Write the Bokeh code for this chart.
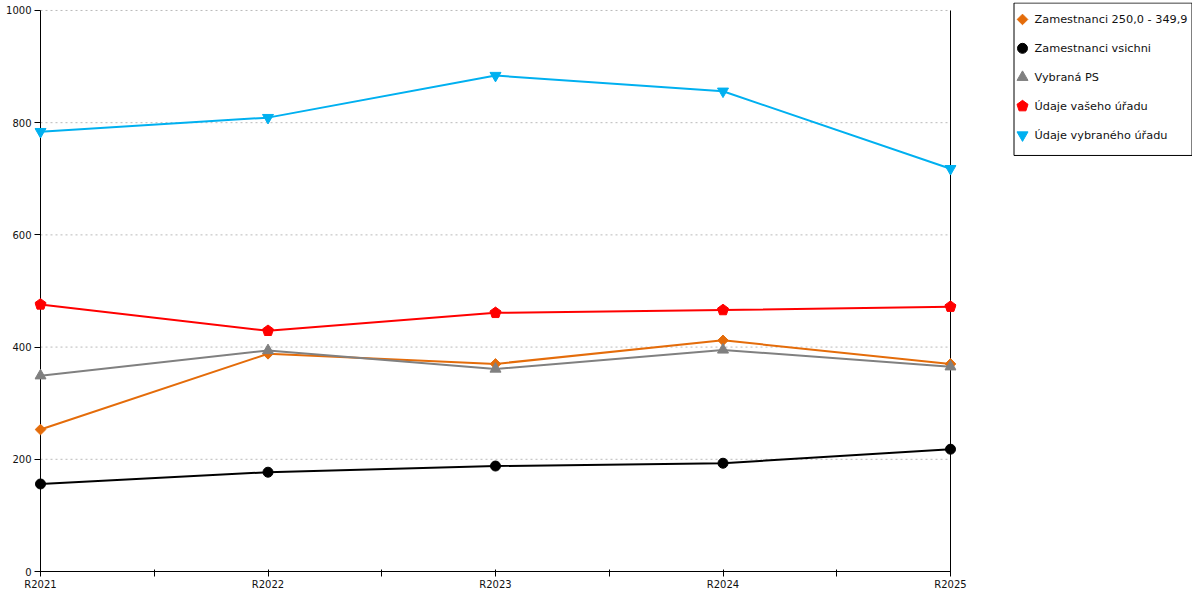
import math
from bokeh.plotting import figure
from bokeh.layouts import row
from bokeh.models import Range1d, FixedTicker
from bokeh.core.properties import value
from bokeh.embed import file_html
from bokeh.resources import INLINE

categories = ["R2021", "R2022", "R2023", "R2024", "R2025"]
s_orange = [253, 388, 370, 412, 370]   # Zamestnanci 250,0 - 349,9
s_black = [156, 177, 188, 193, 218]    # Zamestnanci vsichni
s_gray = [349, 394, 361, 395, 365]     # Vybraná PS
s_red = [476, 429, 461, 466, 472]      # Údaje vašeho úřadu
s_blue = [784, 809, 884, 856, 718]     # Údaje vybraného úřadu
labels = ["Zamestnanci 250,0 - 349,9", "Zamestnanci vsichni", "Vybraná PS",
          "Údaje vašeho úřadu", "Údaje vybraného úřadu"]
y_ticks = [0, 200, 400, 600, 800, 1000]

FONT = "DejaVu Sans"
n = len(categories)
xs = list(range(n))
ymax = y_ticks[-1]

H = 592
TOP, BOTTOM = 2, 18
pxu = 227.5          # px per category step
pyu = 563.0 / ymax   # px per value unit
pad = 6.0 / pxu

p = figure(width=1012, height=H,
           x_range=Range1d(-pad, (n - 1) + pad),
           y_range=Range1d(-1.0 / pyu, ymax + 8.0 / pyu),
           min_border_left=34, min_border_right=56,
           min_border_top=TOP, min_border_bottom=BOTTOM,
           toolbar_location=None, output_backend="svg")
p.outline_line_color = None
p.xgrid.visible = False
p.ygrid.visible = False
p.background_fill_color = "white"
p.border_fill_color = "white"

# x axis
xa = p.xaxis[0]
xa.ticker = FixedTicker(ticks=xs, minor_ticks=[i + 0.5 for i in xs[:-1]])
xa.major_label_overrides = {i: c for i, c in enumerate(categories)}
xa.axis_line_color = None
xa.major_tick_in = 3
xa.major_tick_out = 4
xa.minor_tick_in = 3
xa.minor_tick_out = 4
xa.major_tick_line_color = "black"
xa.minor_tick_line_color = "black"
xa.major_label_standoff = 2
xa.major_label_text_font = FONT
xa.major_label_text_font_size = "10px"
xa.major_label_text_color = "#111111"

# y axis
ya = p.yaxis[0]
ya.ticker = FixedTicker(ticks=y_ticks, minor_ticks=[])
ya.axis_line_color = None
ya.major_tick_in = 6
ya.major_tick_out = 0
ya.minor_tick_line_color = None
ya.major_tick_line_color = "black"
ya.major_label_standoff = 3
ya.major_label_text_font = FONT
ya.major_label_text_font_size = "10px"
ya.major_label_text_color = "#111111"

# dotted grid lines
g = y_ticks[1:]
p.segment(x0=[0] * len(g), x1=[n - 1] * len(g), y0=g, y1=g,
          line_color="#BBBBBB", line_width=1, line_dash="2 3")

# axis frame lines (left, right, bottom)
p.segment(x0=[0, n - 1, 0], x1=[0, n - 1, n - 1],
          y0=[0, 0, 0], y1=[ymax, ymax, 0],
          line_color="black", line_width=1)

c_orange = "#E46C0A"
c_black = "#000000"
c_gray = "#808080"
c_red = "#FF0000"
c_blue = "#00B0F0"


def house(fig, x, y):
    try:
        return fig.ngon(x=x, y=y, radius=5.8, radius_units="screen", n=5,
                        angle=0, fill_color=c_red, line_color=c_red)
    except Exception:
        return fig.scatter(x, y, marker="square", size=9,
                           fill_color=c_red, line_color=c_red)


p.line(xs, s_orange, line_color=c_orange, line_width=2)
p.scatter(xs, s_orange, marker="square", angle=math.pi / 4, size=7.5,
          fill_color=c_orange, line_color=c_orange)
p.line(xs, s_black, line_color=c_black, line_width=2)
p.scatter(xs, s_black, marker="circle", size=10,
          fill_color=c_black, line_color=c_black)
p.line(xs, s_gray, line_color=c_gray, line_width=2)
p.scatter(xs, s_gray, marker="triangle", size=11,
          fill_color=c_gray, line_color=c_gray)
p.line(xs, s_red, line_color=c_red, line_width=2)
house(p, xs, s_red)
p.line(xs, s_blue, line_color=c_blue, line_width=2)
p.scatter(xs, s_blue, marker="inverted_triangle", size=11,
          fill_color=c_blue, line_color=c_blue)

# legend box drawn in a companion figure (pixel coordinates, y downward)
LW = 180
FH = H - TOP - BOTTOM
lg = figure(width=LW, height=H,
            x_range=Range1d(0, LW), y_range=Range1d(FH, 0),
            min_border_left=0, min_border_right=0,
            min_border_top=TOP, min_border_bottom=BOTTOM,
            x_axis_type=None, y_axis_type=None,
            toolbar_location=None, output_backend="svg")
lg.xgrid.visible = False
lg.ygrid.visible = False
lg.outline_line_color = None
lg.background_fill_color = "white"
lg.border_fill_color = "white"

lg.quad(left=[1.5], right=[LW - 0.5], top=[0.5], bottom=[153.5],
        fill_color="white", line_color="black", line_width=1)

ly = [17 + 29 * i for i in range(len(labels))]
mx = 10
lg.scatter([mx], [ly[0]], marker="square", angle=math.pi / 4, size=7.5,
           fill_color=c_orange, line_color=c_orange)
lg.scatter([mx], [ly[1]], marker="circle", size=10,
           fill_color=c_black, line_color=c_black)
lg.scatter([mx], [ly[2]], marker="triangle", size=11,
           fill_color=c_gray, line_color=c_gray)
house(lg, [mx], [ly[3]])
lg.scatter([mx], [ly[4]], marker="inverted_triangle", size=11,
           fill_color=c_blue, line_color=c_blue)
lg.text(x=[22] * len(labels), y=ly, text=labels,
        text_font=value(FONT), text_font_size=value("11.3px"),
        text_baseline="middle", text_align="left", text_color="#111111")

layout = row(p, lg, spacing=0)
open("out.html", "w").write(file_html(layout, INLINE))
